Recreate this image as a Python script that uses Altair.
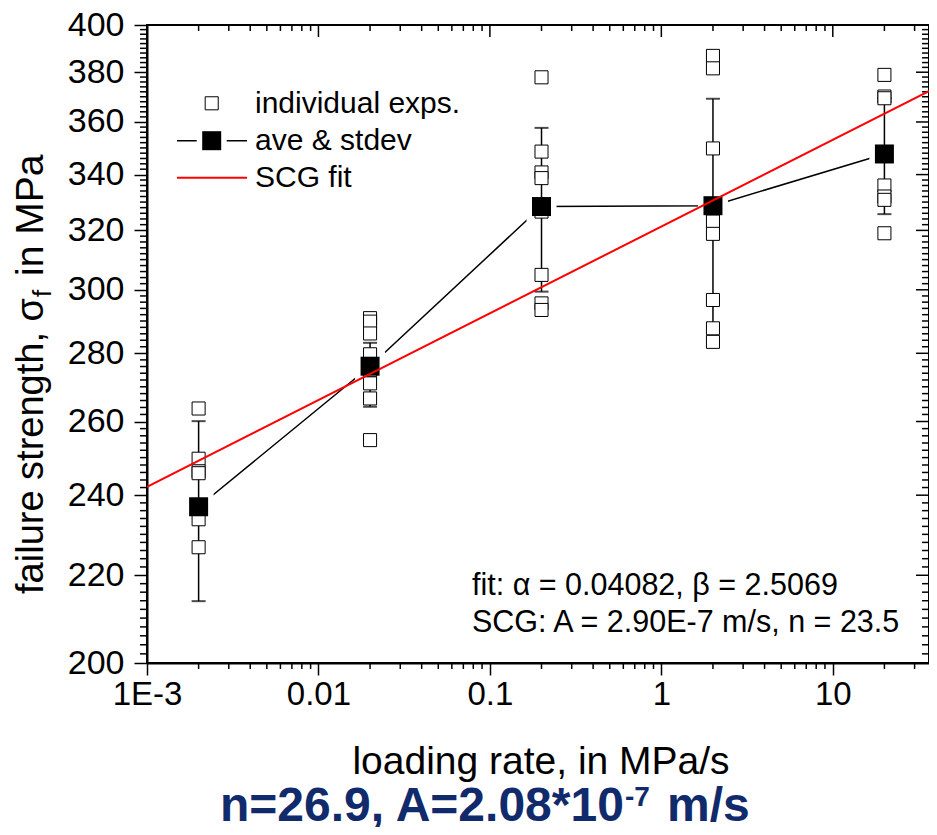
import altair as alt
import pandas as pd

# ---------------- data ----------------
rates = [0.002, 0.02, 0.2, 2, 20]

exp_002 = [263.7, 249.7, 246.3, 245.8, 233.8, 226.8]
exp_02 = [290.9, 289.8, 286.1, 279.7, 274.9, 271.0, 266.6, 254.8]
exp_2 = [377.9, 348.6, 340.8, 338.7, 326.6, 304.9, 295.6, 293.5]
exp_20 = [386.8, 381.6, 349.8, 323.1, 318.8, 296.7, 287.7, 283.5]
exp_200 = [378.9, 370.1, 369.4, 336.0, 332.0, 330.8, 319.0]

ave_sigma = [237.0, 276.1, 328.4, 328.7, 347.7]
err_low = [213.9, 264.2, 299.4, 288.2, 325.7]
err_high = [260.1, 283.2, 357.7, 369.2, 369.5]

fit_rate = [0.001, 40]
fit_sigma = [242.2, 373.7]

x_tick_values = [0.001, 0.01, 0.1, 1, 10]
x_tick_labels = ["1E-3", "0.01", "0.1", "1", "10"]
y_tick_values = [200, 220, 240, 260, 280, 300, 320, 340, 360, 380, 400]

# ---------------- tables ----------------
groups = [exp_002, exp_02, exp_2, exp_20, exp_200]
exp_rate, exp_sigma = [], []
for r, g in zip(rates, groups):
    exp_rate += [r] * len(g)
    exp_sigma += g
exp_df = pd.DataFrame({"rate": exp_rate, "sigma": exp_sigma})
ave_df = pd.DataFrame({"rate": rates, "ave": ave_sigma, "lo": err_low, "hi": err_high})
fit_df = pd.DataFrame({"rate": fit_rate, "sigma": fit_sigma})

x_minor = [k * 10.0 ** d for d in range(-3, 2) for k in range(2, 10) if k * 10.0 ** d < 36]
y_minor = [v for v in range(202, 400, 2) if v % 20]
xmaj_df = pd.DataFrame({"v": x_tick_values})
xmin_df = pd.DataFrame({"v": x_minor})
ymaj_df = pd.DataFrame({"v": y_tick_values})
ymin_df = pd.DataFrame({"v": y_minor})

W, H = 782, 638
FONT = "Liberation Sans"
xs = alt.Scale(type="log", domain=[0.001, 36.4], nice=False)
ys = alt.Scale(type="log", domain=[200, 400], nice=False)

label_expr = " : ".join(
    f"datum.value < {v * 3} ? '{l}'" for v, l in zip(x_tick_values[:-1], x_tick_labels[:-1])
) + f" : '{x_tick_labels[-1]}'"

one = alt.Data(values=[{"a": 1}])

# ---------------- axes carrier (first layer, invisible) ----------------
axes_layer = alt.Chart(exp_df).mark_point(opacity=0).encode(
    x=alt.X("rate:Q", scale=xs, axis=alt.Axis(
        values=x_tick_values, labelExpr=label_expr, title=None, grid=False,
        tickSize=12, tickWidth=1.5, tickColor="black", domainColor="black", domainWidth=2,
        labelFont=FONT, labelFontSize=33, labelColor="black", labelPadding=3,
        labelFlush=False, labelOverlap=False, labelBound=False)),
    y=alt.Y("sigma:Q", scale=ys, axis=alt.Axis(
        values=y_tick_values, title=None, grid=False, format="d",
        tickSize=13, tickWidth=1.5, tickColor="black", domainColor="black", domainWidth=2,
        labelFont=FONT, labelFontSize=34, labelColor="black", labelPadding=10,
        labelOverlap=False, labelBound=False)),
)

# ---------------- ticks (mirror + minor) ----------------
def xrule(df, y0, y1):
    return alt.Chart(df).mark_rule(color="black", strokeWidth=1.5).encode(
        x=alt.X("v:Q", scale=xs), y=alt.value(y0), y2=alt.value(y1))

def yrule(df, x0, x1):
    return alt.Chart(df).mark_rule(color="black", strokeWidth=1.5).encode(
        y=alt.Y("v:Q", scale=ys), x=alt.value(x0), x2=alt.value(x1))

ticks = [
    xrule(xmin_df, H, H + 6),       # bottom minor (out)
    xrule(xmin_df, 0, 6),           # top minor (in)
    xrule(xmaj_df, 0, 12),          # top major (in)
    yrule(ymin_df, 0, -7),          # left minor (out)
    yrule(ymin_df, W, W - 7),       # right minor (in)
    yrule(ymaj_df, W, W - 13),      # right major (in)
]

# ---------------- data marks ----------------
def X(f="rate"):
    return alt.X(f"{f}:Q", scale=xs)

def Y(f):
    return alt.Y(f"{f}:Q", scale=ys)

conn = alt.Chart(ave_df).mark_line(color="black", strokeWidth=1.5).encode(x=X(), y=Y("ave"))
halo = alt.Chart(ave_df).mark_square(size=900, color="white", opacity=1).encode(x=X(), y=Y("ave"))
ebar = alt.Chart(ave_df).mark_rule(color="black", strokeWidth=1.5).encode(x=X(), y=Y("lo"), y2="hi:Q")
cap_lo = alt.Chart(ave_df).mark_tick(color="black", orient="horizontal", size=14, thickness=2).encode(
    x=X(), y=Y("lo"))
cap_hi = alt.Chart(ave_df).mark_tick(color="black", orient="horizontal", size=14, thickness=2).encode(
    x=X(), y=Y("hi"))
opens = alt.Chart(exp_df).mark_square(size=170, fill="white", stroke="black", strokeWidth=1, opacity=1).encode(
    x=X(), y=Y("sigma"))
aves = alt.Chart(ave_df).mark_square(size=361, color="black", opacity=1).encode(x=X(), y=Y("ave"))
fit = alt.Chart(fit_df).mark_line(color="#ff0000", strokeWidth=2, clip=True).encode(x=X(), y=Y("sigma"))

# ---------------- legend ----------------
LX = 64.7
leg = [
    alt.Chart(one).mark_square(size=170, fill="white", stroke="black", strokeWidth=1, opacity=1).encode(
        x=alt.value(LX), y=alt.value(78.3)),
    alt.Chart(one).mark_rule(color="black", strokeWidth=1.5).encode(
        x=alt.value(30), x2=alt.value(100), y=alt.value(115.7)),
    alt.Chart(one).mark_square(size=900, color="white", opacity=1).encode(
        x=alt.value(LX), y=alt.value(115.7)),
    alt.Chart(one).mark_square(size=361, color="black", opacity=1).encode(
        x=alt.value(LX), y=alt.value(115.7)),
    alt.Chart(one).mark_rule(color="#ff0000", strokeWidth=2).encode(
        x=alt.value(30), x2=alt.value(100), y=alt.value(152.7)),
]

def txt(s, x, y, size, align="left", angle=0, color="black", weight="normal"):
    return alt.Chart(one).mark_text(
        text=s, font=FONT, fontSize=size, align=align, baseline="alphabetic",
        angle=angle, color=color, fontWeight=weight).encode(x=alt.value(x), y=alt.value(y))

NAVY = "#112a6c"
texts = [
    txt("individual exps.", 108, 87.7, 30),
    txt("ave & stdev", 108, 125, 30),
    txt("SCG fit", 108, 162, 30),
    txt("fit: α = 0.04082, β = 2.5069", 325, 570, 30.5),
    txt("SCG: A = 2.90E-7 m/s, n = 23.5", 325, 607, 30.5),
    # y title with subscript
    txt("failure strength, σ", -104, 273, 38, align="right", angle=270),
    txt("f", -96, 272, 26, align="left", angle=270),
    txt("in MPa", -104, 251, 39, align="left", angle=270),
    # x title
    txt("loading rate, in MPa/s", 394, 749, 39, align="center"),
    # bold bottom note with superscript
    txt("n=26.9, A=2.08*10", 73, 796, 48, weight="bold", color=NAVY),
    txt("-7", 478, 781, 28, weight="bold", color=NAVY),
    txt("m/s", 520, 796, 48, weight="bold", color=NAVY),
]

chart = alt.layer(
    axes_layer, *ticks, conn, halo, ebar, cap_lo, cap_hi, opens, aves, fit, *leg, *texts
).properties(
    width=W, height=H,
    autosize=alt.AutoSizeParams(type="none"),
    padding={"left": 139, "top": 17, "right": 0, "bottom": 164},
).configure_view(stroke="black", strokeWidth=2)

chart.save("out.html", embed_options={"renderer": "svg", "actions": False})
